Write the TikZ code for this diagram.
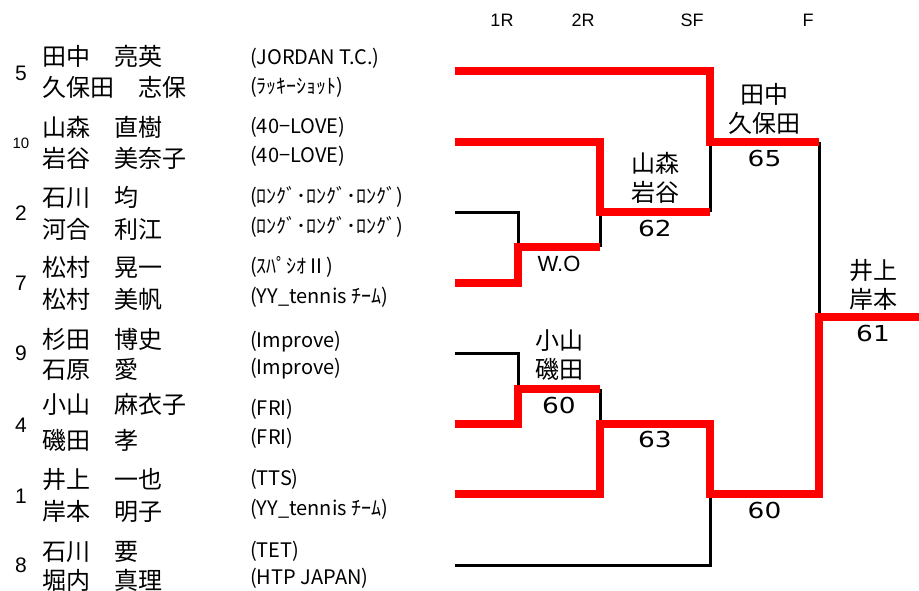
\documentclass[tikz,border=0pt]{standalone}
\usepackage{fontspec}
\setmainfont{Noto Sans CJK JP}
\newfontfamily\latinfont{Liberation Sans}
\newfontfamily\scorefont[FakeStretch=1.2]{DejaVu Sans}
\usetikzlibrary{positioning}

\begin{document}
\begin{tikzpicture}[x=1pt,y=-1pt,
  win/.style={red,line width=8pt},
  lose/.style={black,line width=3pt},
  player/.style={anchor=west,inner sep=0pt,font=\fontsize{24}{29}\selectfont},
  club/.style={anchor=west,inner sep=0pt,font=\fontsize{20}{24}\selectfont},
  seed/.style={inner sep=0pt,font=\latinfont\fontsize{21}{25}\selectfont},
  round/.style={inner sep=0pt,font=\latinfont\fontsize{18}{22}\selectfont},
  pair/.style={align=center,inner sep=0pt,font=\fontsize{24}{29}\selectfont},
  score/.style={inner sep=0pt,font=\scorefont\fontsize{22}{26}\selectfont}]

  \useasboundingbox (0,0) rectangle (919,590);

  % rounds
  \node[round] (R1) at (502,20) {1R};
  \node[round] (R2) at (583,20) {2R};
  \node[round] (SF) at (692,20) {SF};
  \node[round] (F) at (808,20) {F};

  % seeds
  \node[seed] (s1) at (21,73) {5};
  \node[seed,font=\latinfont\fontsize{15}{18}\selectfont] (s2) at (21,143) {10};
  \node[seed] (s3) at (21,213) {2};
  \node[seed] (s4) at (21,283) {7};
  \node[seed] (s5) at (21,353) {9};
  \node[seed] (s6) at (21,425) {4};
  \node[seed] (s7) at (21,496) {1};
  \node[seed] (s8) at (21,565) {8};

  % players
  \node[player] (n1a) at (42,56) {田中　亮英};
  \node[player] (n1b) at (42,87) {久保田　志保};
  \node[player] (n2a) at (42,127) {山森　直樹};
  \node[player] (n2b) at (42,158) {岩谷　美奈子};
  \node[player] (n3a) at (42,197) {石川　均};
  \node[player] (n3b) at (42,229) {河合　利江};
  \node[player] (n4a) at (42,267) {松村　晃一};
  \node[player] (n4b) at (42,299) {松村　美帆};
  \node[player] (n5a) at (42,339) {杉田　博史};
  \node[player] (n5b) at (42,369) {石原　愛};
  \node[player] (n6a) at (42,404) {小山　麻衣子};
  \node[player] (n6b) at (42,440) {磯田　孝};
  \node[player] (n7a) at (42,480) {井上　一也};
  \node[player] (n7b) at (42,511) {岸本　明子};
  \node[player] (n8a) at (42,552) {石川　要};
  \node[player] (n8b) at (42,580) {堀内　真理};

  % clubs
  \node[club] (c1a) at (250,58) {(JORDAN T.C.)};
  \node[club] (c1b) at (250,87) {(ﾗｯｷｰｼｮｯﾄ)};
  \node[club] (c2a) at (250,127) {(40−LOVE)};
  \node[club] (c2b) at (250,156) {(40−LOVE)};
  \node[club] (c3a) at (250,197) {(ﾛﾝｸﾞ･ﾛﾝｸﾞ･ﾛﾝｸﾞ)};
  \node[club] (c3b) at (250,227) {(ﾛﾝｸﾞ･ﾛﾝｸﾞ･ﾛﾝｸﾞ)};
  \node[club] (c4a) at (250,267) {(ｽﾊﾟｼｵⅡ)};
  \node[club] (c4b) at (250,297) {(YY\_tennis ﾁｰﾑ)};
  \node[club] (c5a) at (250,342) {(Improve)};
  \node[club] (c5b) at (250,369) {(Improve)};
  \node[club] (c6a) at (250,409) {(FRI)};
  \node[club] (c6b) at (250,438) {(FRI)};
  \node[club] (c7a) at (250,479) {(TTS)};
  \node[club] (c7b) at (250,509) {(YY\_tennis ﾁｰﾑ)};
  \node[club] (c8a) at (250,551) {(TET)};
  \node[club] (c8b) at (250,578) {(HTP JAPAN)};

  % bracket
  \coordinate (p1) at (455,71);
  \coordinate (p2) at (455,142);
  \coordinate (p3) at (455,212);
  \coordinate (p4) at (455,283);
  \coordinate (p5) at (455,353);
  \coordinate (p6) at (455,424);
  \coordinate (p7) at (455,494);
  \coordinate (p8) at (455,565);
  \coordinate (m1) at (518,247);
  \coordinate (m2) at (518,389);
  \coordinate (m3) at (600,212);
  \coordinate (m4) at (600,424);
  \coordinate (m5) at (710,142);
  \coordinate (m6) at (710,494);
  \coordinate (m7) at (819,317);
  \coordinate (champ) at (919,317);

  \draw[lose] (p3) -| (m1);
  \draw[lose] (m1 -| m3) -- (m3);
  \draw[lose] (m3 -| m5) -- (m5);
  \draw[lose] (m5 -| m7) -- (m7);
  \draw[lose] (p5) -| (m2);
  \draw[lose] (m2 -| m4) -- (m4);
  \draw[lose] (p8) -| (m6);

  \draw[win] (p1) -| (m5) -- (m5 -| m7);
  \draw[win] (p2) -| (m3) -- (m3 -| m5);
  \draw[win] (p4) -| (m1) -- (m1 -| m3);
  \draw[win] (p6) -| (m2) -- (m2 -| m4);
  \draw[win] (p7) -| (m4) -- (m4 -| m6) -- (m6) -- (m6 -| m7) -- (m7) -- (champ);

  % results
  \path (m1) -- (m1 -| m3) node[midway,below=9pt,inner sep=0pt,font=\latinfont\fontsize{22}{26}\selectfont] (r1) {W.O};
  \path (m2) -- (m2 -| m4) node[midway,pair,above=8pt] (w2) {小山\\磯田}
    node[midway,score,below=8pt] (r2) {60};
  \path (m3) -- (m3 -| m5) node[midway,pair,above=8pt] (w3) {山森\\岩谷}
    node[midway,score,below=8pt] (r3) {62};
  \path (m4) -- (m4 -| m6) node[midway,score,below=7pt] (r4) {63};
  \path (m5) -- (m5 -| m7) node[midway,pair,above=7pt] (w5) {田中\\久保田}
    node[midway,score,below=8pt] (r5) {65};
  \path (m6) -- (m6 -| m7) node[midway,score,below=8pt] (r6) {60};
  \path (m7) -- (champ) node[midway,pair,above=6pt,xshift=4pt] (w7) {井上\\岸本}
    node[midway,score,below=8pt,xshift=4pt] (r7) {61};
\end{tikzpicture}
\end{document}
